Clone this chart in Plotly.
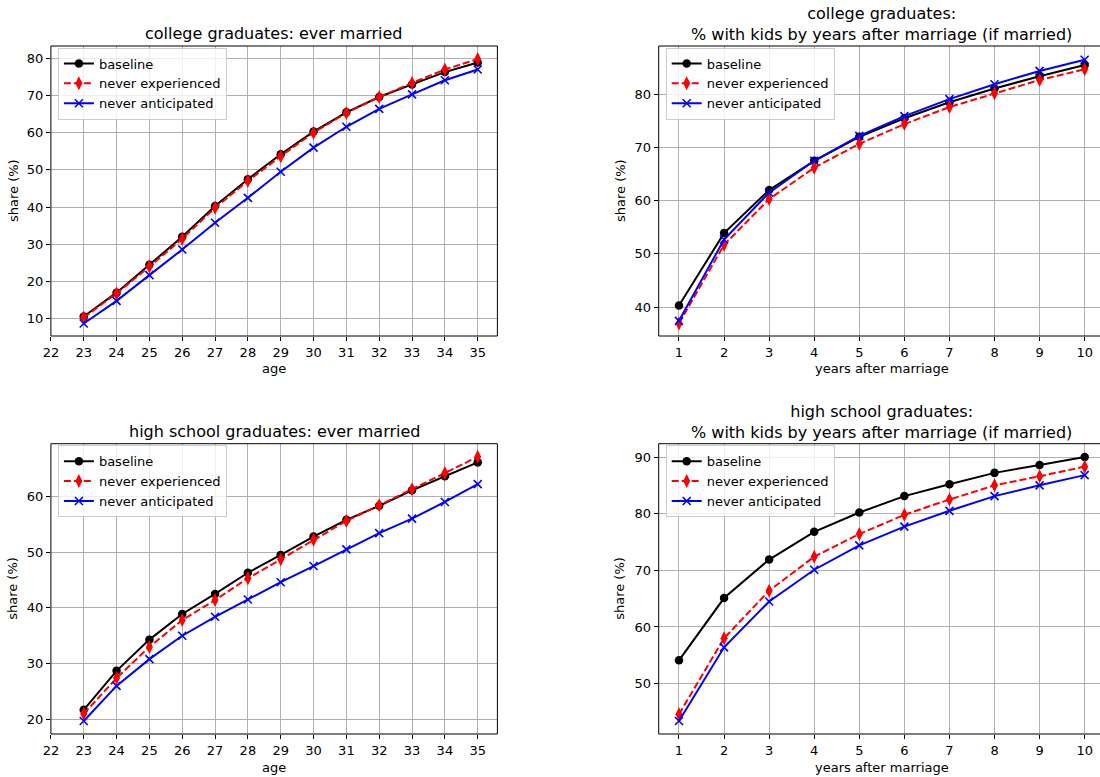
import plotly.graph_objects as go

# ---------------- data ----------------
ages = [23, 24, 25, 26, 27, 28, 29, 30, 31, 32, 33, 34, 35]
years = [1, 2, 3, 4, 5, 6, 7, 8, 9, 10]

col_married_baseline = [10.6, 17.0, 24.5, 32.0, 40.3, 47.5, 54.2, 60.3, 65.5, 69.6, 73.0, 76.3, 78.9]
col_married_never_exp = [10.3, 16.8, 24.0, 31.5, 39.8, 47.0, 53.7, 60.0, 65.3, 69.6, 73.4, 77.0, 79.8]
col_married_never_ant = [8.7, 14.8, 21.7, 28.6, 35.8, 42.5, 49.5, 56.0, 61.6, 66.4, 70.3, 74.1, 77.0]

col_kids_baseline = [40.3, 53.9, 62.0, 67.5, 72.0, 75.5, 78.5, 81.1, 83.4, 85.5]
col_kids_never_exp = [36.9, 51.7, 60.3, 66.2, 70.7, 74.4, 77.6, 80.2, 82.7, 84.7]
col_kids_never_ant = [37.4, 52.7, 61.5, 67.5, 72.2, 75.9, 79.1, 81.9, 84.4, 86.5]

hs_married_baseline = [21.7, 28.7, 34.3, 38.9, 42.5, 46.3, 49.5, 52.8, 55.8, 58.3, 61.1, 63.6, 66.1]
hs_married_never_exp = [21.0, 27.4, 33.0, 37.8, 41.4, 45.3, 48.7, 52.2, 55.6, 58.4, 61.3, 64.2, 67.1]
hs_married_never_ant = [19.7, 26.0, 30.8, 35.0, 38.4, 41.5, 44.6, 47.5, 50.5, 53.4, 56.0, 59.0, 62.2]

hs_kids_baseline = [54.1, 65.1, 71.9, 76.8, 80.2, 83.1, 85.2, 87.2, 88.6, 90.0]
hs_kids_never_exp = [44.6, 58.0, 66.4, 72.4, 76.4, 79.8, 82.5, 85.0, 86.6, 88.3]
hs_kids_never_ant = [43.4, 56.4, 64.5, 70.1, 74.4, 77.7, 80.5, 83.1, 85.0, 86.8]

series_names = ["baseline", "never experienced", "never anticipated"]
titles = [
    "college graduates: ever married",
    "college graduates:<br>% with kids by years after marriage (if married)",
    "high school graduates: ever married",
    "high school graduates:<br>% with kids by years after marriage (if married)",
]
x_labels = ["age", "years after marriage", "age", "years after marriage"]
y_label = "share (%)"
age_ticks = list(range(22, 36))
year_ticks = list(range(1, 11))

panels = [
    (ages, [col_married_baseline, col_married_never_exp, col_married_never_ant]),
    (years, [col_kids_baseline, col_kids_never_exp, col_kids_never_ant]),
    (ages, [hs_married_baseline, hs_married_never_exp, hs_married_never_ant]),
    (years, [hs_kids_baseline, hs_kids_never_exp, hs_kids_never_ant]),
]

# ---------------- layout geometry ----------------
W, H = 1100, 777
FONT = "DejaVu Sans"
FS = 13
x_doms = [(50.9, 497.4), (658.7, 1100.0), (50.9, 497.4), (658.7, 1100.0)]
y_doms = [(46.0, 336.0), (46.0, 336.0), (443.7, 734.0), (443.7, 734.0)]
x_frame_right = [497.4, 1105.0, 497.4, 1105.0]
x_ranges = [[22, 35.6], [0.55, 10.34], [22, 35.6], [0.55, 10.34]]
y_ranges = [[5.34, 83.32], [34.55, 89.09], [17.37, 69.45], [41.1, 92.35]]
x_tickvals = [age_ticks, year_ticks, age_ticks, year_ticks]
y_tickvals = [list(range(10, 81, 10)), list(range(40, 81, 10)),
              list(range(20, 61, 10)), list(range(50, 91, 10))]
title_centers = [33, 24, 431, 422]
ylabel_x = [13, 620, 13, 620]
xlabel_y = [369, 369, 767.5, 767.5]

styles = [
    dict(color="black", dash="solid", symbol="circle", size=8.5, mline=0),
    dict(color="red", dash="7px,3px", symbol="diamond-tall", size=10, mline=0),
    dict(color="blue", dash="solid", symbol="x-thin", size=8, mline=1.6),
]

fig = go.Figure()

for i, (xs, ys_list) in enumerate(panels):
    n = i + 1
    xa = "x" if n == 1 else f"x{n}"
    ya = "y" if n == 1 else f"y{n}"
    leg = "legend" if n == 1 else f"legend{n}"
    for name, ys, st in zip(series_names, ys_list, styles):
        marker = dict(symbol=st["symbol"], size=st["size"], color=st["color"])
        if st["mline"]:
            marker["line"] = dict(width=st["mline"], color=st["color"])
        fig.add_trace(go.Scatter(
            x=xs, y=ys, name=name, mode="lines+markers",
            line=dict(color=st["color"], width=2, dash=st["dash"]),
            marker=marker, xaxis=xa, yaxis=ya, legend=leg,
        ))

layout = dict(
    width=W, height=H, margin=dict(l=0, r=0, t=0, b=0, autoexpand=False),
    paper_bgcolor="white", plot_bgcolor="white",
    font=dict(family=FONT, size=FS, color="black"),
    showlegend=True,
)
shapes = []
annotations = []
for i in range(4):
    n = i + 1
    xd = x_doms[i]
    yd = y_doms[i]
    xkey = "xaxis" if n == 1 else f"xaxis{n}"
    ykey = "yaxis" if n == 1 else f"yaxis{n}"
    ya = "y" if n == 1 else f"y{n}"
    xa = "x" if n == 1 else f"x{n}"
    common = dict(showgrid=True, gridcolor="#b0b0b0", gridwidth=1, zeroline=False,
                  ticks="outside", ticklen=4, tickwidth=1, tickcolor="black",
                  showline=False, automargin=False, tickfont=dict(size=FS, family=FONT))
    layout[xkey] = dict(common, domain=[xd[0] / W, xd[1] / W], range=x_ranges[i],
                        tickmode="array", tickvals=x_tickvals[i], anchor=ya)
    layout[ykey] = dict(common, domain=[1 - yd[1] / H, 1 - yd[0] / H], range=y_ranges[i],
                        tickmode="array", tickvals=y_tickvals[i], anchor=xa)
    shapes.append(dict(type="rect", xref="paper", yref="paper",
                       x0=xd[0] / W, x1=x_frame_right[i] / W,
                       y0=1 - yd[1] / H, y1=1 - yd[0] / H,
                       line=dict(color="black", width=1), fillcolor="rgba(0,0,0,0)",
                       layer="above"))
    cx = (xd[0] + x_frame_right[i]) / 2 / W
    annotations.append(dict(text=titles[i], xref="paper", yref="paper",
                            x=cx, y=1 - title_centers[i] / H,
                            xanchor="center", yanchor="middle",
                            showarrow=False, font=dict(size=16, family=FONT, color="black")))
    annotations.append(dict(text=x_labels[i], xref="paper", yref="paper",
                            x=cx, y=1 - xlabel_y[i] / H,
                            xanchor="center", yanchor="middle",
                            showarrow=False, font=dict(size=FS, family=FONT, color="black")))
    annotations.append(dict(text=y_label, xref="paper", yref="paper", textangle=-90,
                            x=ylabel_x[i] / W, y=1 - (yd[0] + yd[1]) / 2 / H,
                            xanchor="center", yanchor="middle",
                            showarrow=False, font=dict(size=FS, family=FONT, color="black")))
    lkey = "legend" if n == 1 else f"legend{n}"
    layout[lkey] = dict(x=(xd[0] + 7) / W, y=1 - (yd[0] + 1.5) / H,
                        xanchor="left", yanchor="top",
                        bgcolor="rgba(255,255,255,0.8)", bordercolor="#cccccc", borderwidth=1,
                        font=dict(size=FS, family=FONT, color="black"),
                        tracegroupgap=0)
layout["shapes"] = shapes
layout["annotations"] = annotations
fig.update_layout(**layout)

fig.write_html("out.html")
